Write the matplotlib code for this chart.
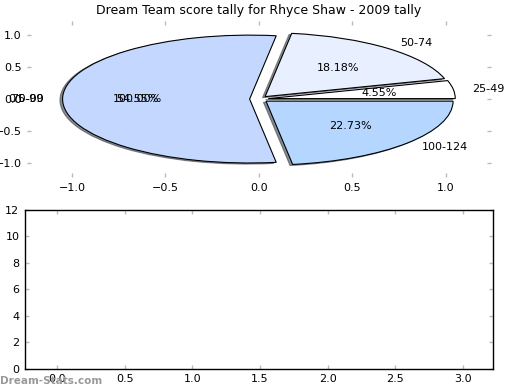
import matplotlib
matplotlib.use("Agg")
import matplotlib.pyplot as plt

# score bins and tally share for Rhyce Shaw (2009)
labels = ["25-49", "50-74", "75-99", "100-124"]
tally = [1, 4, 12, 5]
colors = ["#ffffff", "#e8f0ff", "#c4d8ff", "#b4d6ff"]

# left-over single slice pie drawn underneath (overlapping labels on the left)
ghost_labels = ["0.0-00"]
ghost_tally = [1]

title = "Dream Team score tally for Rhyce Shaw - 2009 tally"

fig = plt.figure(figsize=(5.2, 3.9), dpi=100)
ax = fig.add_axes([0.052, 0.546, 0.892, 0.4])
ax2 = fig.add_axes([0.048, 0.054, 0.9, 0.408])

ax.pie(ghost_tally, labels=ghost_labels, explode=[0.05], autopct="%1.2f%%",
       colors=["none"], wedgeprops=dict(linewidth=0, fill=False),
       textprops=dict(fontsize=8))
ax.pie(tally, labels=labels, explode=[0.05] * len(tally), colors=colors,
       autopct="%1.2f%%", shadow=dict(ox=-0.01, oy=-0.012, alpha=0.6),
       startangle=0,
       wedgeprops=dict(edgecolor="black", linewidth=0.8),
       textprops=dict(fontsize=8))
ax.set_aspect("auto")
ax.set_frame_on(False)
ax.set_xlim(-1.24, 1.24)
ax.set_ylim(-1.22, 1.22)
ax.set_xticks([-1.0, -0.5, 0.0, 0.5, 1.0])
ax.set_yticks([-1.0, -0.5, 0.0, 0.5, 1.0])
ax.set_title(title, fontsize=9, pad=5)

ax2.set_xlim(-0.236, 3.22)
ax2.set_ylim(0, 12)
ax2.set_xticks([0.0, 0.5, 1.0, 1.5, 2.0, 2.5, 3.0])
ax2.set_yticks([0, 2, 4, 6, 8, 10, 12])

for a in (ax, ax2):
    a.tick_params(direction="in", length=3, width=1, color="#bbbbbb",
                  labelsize=8, top=True, right=True, pad=4)
for s in ax2.spines.values():
    s.set_linewidth(1)

fig.text(0.0, 0.01, "Dream-Stats.com", fontsize=7.5, color="#999999",
         fontweight="bold", ha="left", va="bottom")

fig.savefig("out.png", dpi=100)
